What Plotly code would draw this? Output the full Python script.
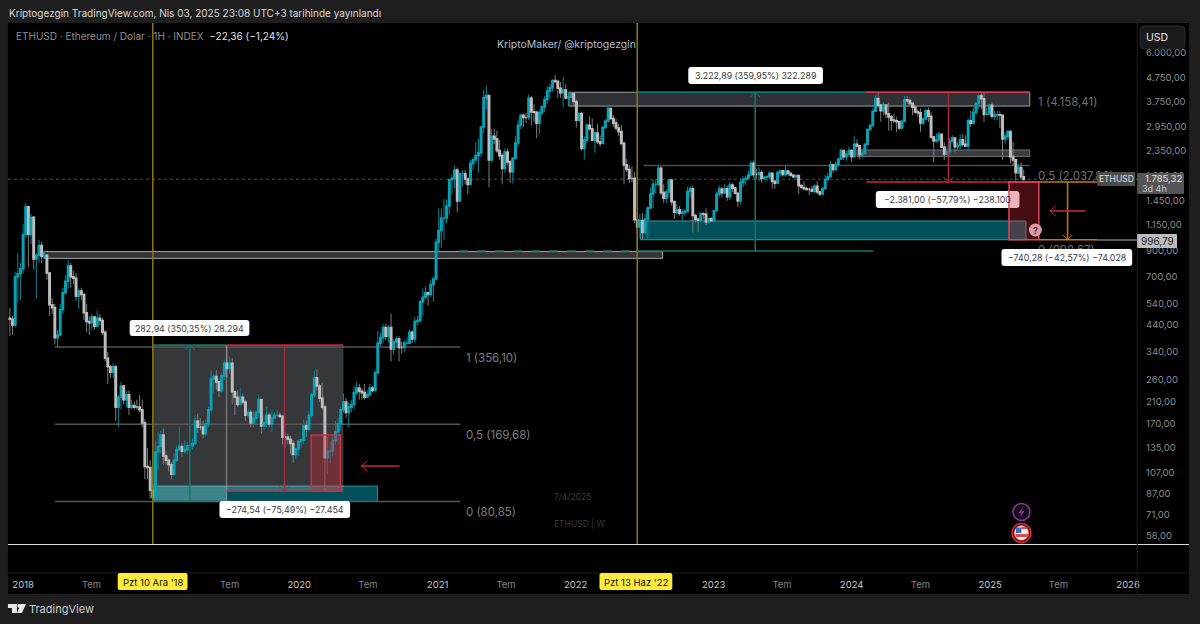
import numpy as np
import pandas as pd
import plotly.graph_objects as go

# Weekly ETHUSD bars as (close, high, low); each bar opens at the previous close.
first_open = 470
weeks_2017 = [(465,520,395),(440,480,400),(700,735,430),(720,880,545),(755,800,560)]
weeks_2018 = [(1050,1160,720),(1370,1420,1020),(1050,1370,770),(1240,1280,960),(830,1250,750),
    (860,880,570),(945,1000,800),(850,980,800),(860,900,830),(725,870,680),(535,730,480),(520,570,490),
    (390,540,365),(400,420,356),(510,540,395),(600,630,490),(670,710,590),(775,823,625),(700,800,630),
    (690,740,650),(580,725,555),(610,625,515),(590,630,560),(495,600,460),(455,540,410),(450,480,400),
    (475,490,420),(435,480,420),(470,505,430),(460,490,440),(410,470,400),(320,420,310),(295,340,250),
    (280,300,265),(295,305,265),(200,300,175),(220,225,165),(245,255,195),(215,245,205),(225,235,200),
    (200,235,185),(203,215,195),(200,210,195),(200,215,195),(195,225,190),(172,215,165),(113,178,100),
    (112,135,100),(90,120,83),(84,96,80.85),(130,145,83),(137,157,110),(153,160,128)]
weeks_2019 = [(125,163,115),(120,131,115),(115,122,108),(105,118,100),(120,128,103),(133,138,118),
    (137,165,132),(131,142,124),(133,145,128),(138,143,127),(138,145,130),(141,148,133),(175,185,139),
    (165,188,156),(165,180,160),(155,175,148),(170,178,152),(195,200,165),(262,285,190),(268,275,230),
    (255,285,235),(235,255,220),(270,278,230),(305,315,260),(290,356,265),(305,325,275),(232,320,205),
    (220,235,185),(205,235,200),(220,240,205),(210,228,205),(185,215,175),(190,197,180),(172,195,165),
    (180,192,165),(190,195,168),(215,225,180),(167,215,155),(172,185,160),(185,200,165),(170,190,165),
    (180,195,158),(185,190,178),(185,195,182),(183,190,180),(150,185,140),(150,158,135),(147,155,140),
    (141,152,127),(127,146,117),(134,135,122),(144,147,125)]
weeks_2020 = [(146,148,135),(167,178,140),(162,175,150),(185,192,158),(225,230,180),(265,285,220),
    (245,288,235),(218,250,210),(200,252,195),(123,205,89.13),(131,150,105),(131,143,117),(145,150,125),
    (158,175,140),(170,180,140),(195,200,160),(210,228,190),(190,218,180),(200,210,165),(205,215,190),
    (230,245,195),(240,255,225),(233,250,215),(230,240,215),(220,250,215),(225,235,220),(240,250,225),
    (235,245,230),(278,285,235),(370,415,275),(390,410,360),(430,445,370),(395,445,380),(430,440,370),
    (350,490,310),(375,385,330),(385,395,360),(355,395,310),(355,375,335),(370,380,340),(370,390,365),
    (410,420,365),(385,420,370),(455,475,370),(460,480,440),(550,560,450),(575,625,480),(600,635,560),
    (590,600,530),(650,680,575),(685,700,550),(975,1010,680)]
weeks_2021 = [(1090,1350,890),(1230,1350,925),(1230,1475,1000),(1380,1470,1170),(1780,1790,1270),
    (1800,1870,1560),(1950,2040,1640),(1450,2000,1300),(1880,1900,1460),(1880,1950,1670),(1790,1950,1700),
    (1700,1800,1550),(2080,2150,1700),(2150,2200,1950),(2240,2550,2100),(2300,2640,1900),(2950,2990,2200),
    (3900,4200,2780),(3990,4380,3500),(2150,4000,1650),(2700,2900,2100),(2630,2900,2500),(2350,2850,2300),
    (2240,2600,2150),(1980,2300,1700),(2320,2400,1900),(2110,2400,2050),(1920,2150,1720),(2190,2200,1710),
    (2530,2700,2150),(3000,3170,2450),(3300,3350,2900),(3230,3350,2950),(3230,3370,3070),(3890,4030,3150),
    (3410,3980,3000),(3400,3670,3100),(3060,3450,2650),(3380,3470,2750),(3580,3630,3300),(3840,3970,3400),
    (4170,4370,3680),(4300,4460,3900),(4610,4660,4150),(4570,4870,4500),(4280,4600,3900),(4100,4550,3900),
    (4210,4780,3570),(3900,4450,3850),(3930,4130,3630),(4060,4120,3900),(3770,4090,3600)]
weeks_2022 = [(3150,3850,2930),(3350,3400,3100),(2400,3420,2350),(2600,2700,2160),(3000,3050,2530),
    (2900,3280,2850),(2600,3200,2580),(2780,2830,2300),(2560,3040,2500),(2520,2720,2440),(2940,2970,2510),
    (3120,3180,2900),(3520,3580,3230),(3200,3550,3150),(3060,3300,2950),(2920,3190,2850),(2820,3030,2700),
    (2520,3000,2480),(2050,2560,1700),(1960,2170,1910),(1800,2050,1720),(1800,2020,1730),(1210,1920,1170),
    (1130,1300,895.37),(1200,1280,1010),(1070,1290,1000),(1215,1280,1060),(1355,1380,1010),(1550,1650,1340),
    (1700,1780,1350),(1700,1790,1560),(1985,2030,1680),(1570,2020,1530),(1490,1700,1420),(1580,1620,1420),
    (1770,1790,1500),(1440,1790,1390),(1300,1440,1220),(1330,1410,1270),(1290,1380,1260),(1300,1340,1190),
    (1310,1340,1250),(1590,1660,1340),(1630,1680,1500),(1260,1680,1070),(1215,1280,1180),(1205,1230,1075),
    (1280,1300,1190),(1275,1300,1215),(1185,1350,1150),(1220,1225,1160),(1200,1240,1190)]
weeks_2023 = [(1320,1330,1195),(1550,1590,1310),(1625,1680,1500),(1570,1660,1500),(1630,1700,1550),
    (1510,1680,1450),(1690,1740,1460),(1640,1720,1580),(1560,1660,1550),(1450,1570,1370),(1730,1800,1400),
    (1780,1840,1650),(1800,1850,1680),(1860,1940,1770),(2080,2130,1850),(1870,2140,1800),(1870,1970,1780),
    (1900,2000,1750),(1800,1950,1730),(1820,1850,1770),(1830,1860,1750),(1890,1930,1780),(1750,1900,1630),
    (1720,1780,1630),(1900,1930,1710),(1935,1950,1830),(1870,1950,1830),(1930,2030,1830),(1890,1950,1850),
    (1855,1890,1825),(1830,1870,1800),(1850,1870,1800),(1680,1850,1550),(1650,1700,1630),(1630,1750,1620),
    (1620,1660,1600),(1620,1650,1530),(1590,1680,1570),(1670,1700,1560),(1580,1750,1550),(1550,1600,1520),
    (1630,1650,1530),(1780,1860,1620),(1830,1900,1770),(2050,2130,1820),(1960,2060,1900),(2060,2130,1930),
    (2170,2190,2020),(2350,2400,2150),(2220,2340,2150),(2270,2340,2130),(2350,2450,2210)]
weeks_2024 = [(2220,2380,2110),(2500,2700,2220),(2460,2620,2390),(2260,2470,2170),(2290,2390,2200),
    (2500,2520,2270),(2880,2900,2470),(2990,3030,2850),(3430,3520,3030),(3880,4000,3420),(3640,4090,3550),
    (3450,3680,3100),(3640,3730,3300),(3350,3660,3210),(3250,3730,2850),(3150,3320,2850),(3130,3350,3070),
    (3100,3250,2800),(2920,3130,2860),(3120,3130,2860),(3830,3970,3090),(3800,3970,3700),(3700,3880,3650),
    (3570,3720,3300),(3410,3640,3350),(3380,3490,3240),(3070,3520,2810),(3190,3200,2990),(3450,3520,3160),
    (3270,3560,3090),(2680,3400,2630),(2580,2700,2100),(2610,2780,2530),(2750,2820,2550),(2430,2760,2420),
    (2270,2550,2150),(2320,2450,2280),(2580,2660,2260),(2650,2730,2540),(2440,2670,2310),(2470,2560,2350),
    (2610,2750,2380),(2500,2770,2440),(2460,2720,2450),(3130,3220,2350),(3060,3450,2950),(3400,3550,3020),
    (3700,3750,3310),(3980,4020,3500),(3870,4100,3500),(3330,4100,3100),(3340,3550,3300),(3630,3680,3310)]
weeks_2025 = [(3270,3740,3190),(3310,3450,3150),(3320,3450,3150),(3300,3430,2920),(2630,3260,2150),
    (2700,2790,2510),(2820,2860,2620),(2220,2860,2080),(2150,2550,2030),(1900,2150,1760),(2000,2070,1880),
    (1830,2100,1770),(1785.32,1960,1740)]

year_blocks = [("2017-11-27", weeks_2017), ("2018-01-01", weeks_2018), ("2019-01-07", weeks_2019),
               ("2020-01-06", weeks_2020), ("2021-01-04", weeks_2021), ("2022-01-03", weeks_2022),
               ("2023-01-02", weeks_2023), ("2024-01-01", weeks_2024), ("2025-01-06", weeks_2025)]

# Axis labels
price_ticks = [6000, 4750, 3750, 2950, 2350, 1850, 1450, 1150, 900, 700, 540, 440, 340, 260, 210, 170, 135, 107, 87, 71, 58]
price_tick_text = ["6.000,00", "4.750,00", "3.750,00", "2.950,00", "2.350,00", "1.850,00", "1.450,00", "1.150,00",
                   "900,00", "700,00", "540,00", "440,00", "340,00", "260,00", "210,00", "170,00", "135,00",
                   "107,00", "87,00", "71,00", "58,00"]
time_ticks = ["2018-01-01", "2018-07-01", "2019-07-01", "2020-01-01", "2020-07-01", "2021-01-01",
              "2021-07-01", "2022-01-01", "2023-01-01", "2023-07-01", "2024-01-01", "2024-07-01",
              "2025-01-01", "2025-07-01", "2026-01-01"]
time_tick_text = ["2018", "Tem", "Tem", "2020", "Tem", "2021", "Tem", "2022", "2023", "Tem", "2024",
                  "Tem", "2025", "Tem", "2026"]

# Measured moves and Fibonacci levels
low_2018, high_2019 = 80.76, 363.70
drop_top_2019, drop_low_2020 = 363.67, 89.13
low_2022, high_2024 = 895.37, 4118.26
drop_top_2024, drop_low_2025 = 4120.10, 1739.10
last_price, target_price = 1785.32, 996.79
target_top, target_low = 1738.97, 998.69
fib_left = [356.10, 169.68, 80.85]
fib_left_text = ["1 (356,10)", "0,5 (169,68)", "0 (80,85)"]
fib_right = [4158.41, 2037.80, 998.67]
fib_right_text = ["1 (4.158,41)", "0,5 (2.037,80)", "0 (998,67)"]

W, H = 1200, 624
FONT = "Inter"
TEAL = "#0a97a8"
RED = "#c8283c"
DARK_RED = "#a8283a"
GREEN = "#0f7a6c"
ORANGE = "#c07a10"
LABEL_DROP = 0.944  # level captions sit just under their line


def fx(px):
    return px / W


def fy(py):
    return 1 - py / H


dates, opens, highs, lows, closes = [], [], [], [], []
prev = first_open
for start, block in year_blocks:
    for when, (c, h, l) in zip(pd.date_range(start, periods=len(block), freq="7D"), block):
        dates.append(when)
        opens.append(prev)
        highs.append(max(h, prev, c))
        lows.append(min(l, prev, c))
        closes.append(c)
        prev = c

fig = go.Figure()
# Thin dim wicks first, then thicker bright bodies over them.
fig.add_trace(go.Candlestick(
    x=dates, open=opens, high=highs, low=lows, close=closes, hoverinfo="skip", showlegend=False,
    whiskerwidth=0,
    increasing=dict(line=dict(color="#0a8496", width=1), fillcolor="#0a8496"),
    decreasing=dict(line=dict(color="#7c7c7c", width=1), fillcolor="#7c7c7c"),
))
fig.add_trace(go.Candlestick(
    x=dates, open=opens, close=closes,
    high=[max(o, c) for o, c in zip(opens, closes)], low=[min(o, c) for o, c in zip(opens, closes)],
    hoverinfo="skip", showlegend=False, whiskerwidth=0,
    increasing=dict(line=dict(color="#0aa0b2", width=1.6), fillcolor="#0aa0b2"),
    decreasing=dict(line=dict(color="#bdbdbd", width=1.6), fillcolor="#d0d0d0"),
))
fig.add_trace(go.Scatter(
    x=["2021-03-17"] * 3, y=[v * LABEL_DROP for v in fib_left], text=fib_left_text, mode="text",
    textposition="bottom right", textfont=dict(family=FONT, size=11.5, color="#7d7d7d"),
    hoverinfo="skip", showlegend=False))
fig.add_trace(go.Scatter(
    x=["2025-05-08"] * 3, y=[v * LABEL_DROP for v in fib_right], text=fib_right_text, mode="text",
    textposition="bottom right", textfont=dict(family=FONT, size=11.5, color="#6e6e6e"),
    hoverinfo="skip", showlegend=False))

shapes = []


def rect(x0, x1, y0, y1, fill, line=None, width=1, layer="below"):
    shapes.append(dict(type="rect", xref="x", yref="y", x0=x0, x1=x1, y0=y0, y1=y1, fillcolor=fill,
                       line=dict(color=line or "rgba(0,0,0,0)", width=width if line else 0), layer=layer))


def hline(x0, x1, y, color, width=1, dash="solid", layer="below"):
    shapes.append(dict(type="line", xref="x", yref="y", x0=x0, x1=x1, y0=y, y1=y,
                       line=dict(color=color, width=width, dash=dash), layer=layer))


def vline(x, y0, y1, color, width=1, layer="above"):
    shapes.append(dict(type="line", xref="x", yref="y", x0=x, x1=x, y0=y0, y1=y1,
                       line=dict(color=color, width=width), layer=layer))


def chevron(x, y, path, color):
    # Open arrow head, sized in pixels around its data anchor.
    shapes.append(dict(type="path", xsizemode="pixel", ysizemode="pixel", xanchor=x, yanchor=y, xref="x", yref="y",
                       path=path, line=dict(color=color, width=1), layer="above"))


def rounded(x0, y0, x1, y1, r, fill, line=None, layer="above"):
    # Rounded panel placed in page pixels.
    a, b, c, d = fx(x0), fy(y0), fx(x1), fy(y1)
    rx, ry = r / W, r / H
    path = (f"M {a + rx} {b} L {c - rx} {b} Q {c} {b} {c} {b - ry} L {c} {d + ry} Q {c} {d} {c - rx} {d} "
            f"L {a + rx} {d} Q {a} {d} {a} {d + ry} L {a} {b - ry} Q {a} {b} {a + rx} {b} Z")
    shapes.append(dict(type="path", xref="paper", yref="paper", path=path, fillcolor=fill,
                       line=dict(color=line or "rgba(0,0,0,0)", width=1 if line else 0), layer=layer))


def circle(cx, cy, r, fill, line=None, width=1):
    shapes.append(dict(type="circle", xref="paper", yref="paper", x0=fx(cx - r), x1=fx(cx + r), y0=fy(cy + r),
                       y1=fy(cy - r), fillcolor=fill,
                       line=dict(color=line or "rgba(0,0,0,0)", width=width if line else 0), layer="above"))


def page_path(points, fill, line=None):
    path = "M " + " L ".join(f"{fx(x)} {fy(y)}" for x, y in points) + " Z"
    shapes.append(dict(type="path", xref="paper", yref="paper", path=path, fillcolor=fill,
                       line=dict(color=line or "rgba(0,0,0,0)", width=1 if line else 0), layer=layer_above))


layer_above = "above"

# Chart and axis panel
shapes.append(dict(type="rect", xref="paper", yref="paper", x0=fx(8), x1=fx(1192), y0=fy(594), y1=fy(23),
                   fillcolor="#000000", line=dict(width=0), layer="below"))

# Supply and demand zones
rect("2018-02-25", "2022-08-19", 835, 891, "#333338", "#a8a8a8")
rect("2021-12-14", "2025-04-16", 3607, 4118, "#303137", "#a0a0a0")
rect("2024-01-15", "2025-04-16", 2222, 2366, "#3b3b40", "#6e6e6e")
rect("2022-06-22", "2025-04-06", 998.69, 1196, "#01505a", "#3c989f")
rect("2018-12-10", "2020-07-26", 80.85, 93.7, "#01505a", "#2d8d95")

# Measured-move shading of the 2018-2020 range
rect("2018-12-10", "2020-04-27", drop_low_2020, high_2019, "rgba(200,205,215,0.27)")
rect("2018-12-10", "2019-06-23", low_2018, drop_low_2020, "rgba(200,205,215,0.27)")
rect("2018-12-10", "2019-06-23", 80.85, 93.7, "rgba(100,230,220,0.15)")

# Fibonacci lines
for level in fib_left:
    hline("2018-03-26", "2021-03-02", level, "#555555", 1.5)
hline("2022-06-30", "2025-04-16", fib_right[1], "#4c4c4c", 1.5)

# Last price line and upcoming target line
shapes.append(dict(type="line", xref="x domain", yref="y", x0=0, x1=1, y0=last_price, y1=last_price,
                   line=dict(color="#4d4d4d", width=1, dash="dot"), layer="below"))
hline("2025-10-12", "2026-01-25", target_price, "#777777", 1.5)
hline("2021-02-27", "2022-06-13", low_2022, GREEN, 1.5, "dash", "above")

# Session markers
for when in ["2018-12-10", "2022-06-13"]:
    shapes.append(dict(type="line", xref="x", yref="paper", x0=when, x1=when, y0=fy(544), y1=fy(23),
                       line=dict(color="#8a7a14", width=1.5), layer="above"))

# Separator lines of the panes
shapes.append(dict(type="line", xref="paper", yref="paper", x0=fx(8), x1=fx(1192), y0=fy(544.5), y1=fy(544.5),
                   line=dict(color="#dcdcdc", width=1), layer="above"))
shapes.append(dict(type="line", xref="paper", yref="paper", x0=fx(8), x1=fx(1192), y0=fy(573), y1=fy(573),
                   line=dict(color="#1e1e1e", width=1), layer="above"))
shapes.append(dict(type="line", xref="paper", yref="paper", x0=fx(1140), x1=fx(1140), y0=fy(594), y1=fy(23),
                   line=dict(color="#1e1e1e", width=1), layer="above"))

# 2018-2019 rise
hline("2018-12-10", "2019-06-23", high_2019, GREEN, 1.5, layer="above")
hline("2018-12-10", "2019-06-23", low_2018, GREEN, 1.5, layer="above")
vline("2019-03-18", low_2018, high_2019, GREEN, 1.5)
chevron("2019-03-18", high_2019, "M -5 -5 L 0 0 L 5 -5", GREEN)
vline("2019-06-23", low_2018, high_2019, "rgba(190,190,190,0.45)", 1.5)

# 2019-2020 fall
hline("2019-06-23", "2020-04-27", drop_top_2019, RED, 1.5, layer="above")
hline("2019-06-23", "2020-04-27", drop_low_2020, RED, 1.5, layer="above")
vline("2019-11-23", drop_low_2020, drop_top_2019, DARK_RED, 1.5)
chevron("2019-11-23", drop_low_2020, "M -5 5 L 0 0 L 5 5", DARK_RED)
rect("2020-02-02", "2020-04-19", drop_low_2020, 153, "rgba(200,40,50,0.38)", "#c83244", 1.5, "above")

# 2022-2024 rise
hline("2022-06-13", "2024-02-27", high_2024, GREEN, 1.5, layer="above")
hline("2022-06-13", "2024-02-27", low_2022, GREEN, 1.5, layer="above")
vline("2023-04-21", low_2022, high_2024, GREEN, 1.5)
chevron("2023-04-21", high_2024, "M -5 -5 L 0 0 L 5 -5", GREEN)

# 2024-2025 fall
hline("2024-02-09", "2025-04-16", drop_top_2024, "#d23c50", 1.5, layer="above")
hline("2024-02-09", "2025-05-10", drop_low_2025, RED, 1.5, layer="above")
vline("2024-09-13", drop_low_2025, drop_top_2024, DARK_RED, 1.5)
chevron("2024-09-13", drop_low_2025, "M -5 5 L 0 0 L 5 5", DARK_RED)

# White value callouts, the last ones tinted by the red zone above them
rounded(690, 67, 825, 84, 3, "#ffffff")
rounded(130, 320, 250, 336, 3, "#ffffff")
rounded(220, 501, 351, 518, 3, "#ffffff")
rounded(878, 191, 1022, 208, 3, "#ffffff")
rounded(1004, 249, 1135, 266, 3, "#ffffff")
rect("2025-02-20", "2025-05-10", target_low, target_top, "rgba(200,40,50,0.35)", "#e04458", 1.5, "above")
circle(1038, 230, 6.5, "#d89aa8")

# Projected target
hline("2025-05-10", "2025-10-12", target_top, ORANGE, 1.5, layer="above")
hline("2025-05-10", "2025-10-12", target_low, ORANGE, 1.5, layer="above")
vline("2025-07-25", target_low, target_top, ORANGE, 1.5)
chevron("2025-07-25", target_low, "M -5 5 L 0 0 L 5 5", ORANGE)

# Red pointers toward the price action
hline("2020-06-13", "2020-09-22", 113.6, RED, 1.5, layer="above")
chevron("2020-06-13", 113.6, "M 6 5 L 0 0 L 6 -5", RED)
hline("2025-06-08", "2025-09-11", 1316, RED, 1.5, layer="above")
chevron("2025-06-08", 1316, "M 6 5 L 0 0 L 6 -5", RED)

# Price axis badges and the currency button
rounded(1143, 26, 1188, 49, 4, "#1a1a1a", "#2a2a2a")
rounded(1100, 172, 1138, 186, 1, "#4d4d4d")
rounded(1140, 173, 1187, 194, 1, "#555555")
rounded(1140, 234, 1180, 248, 1, "#bdbdbd")

# Crosshair date badges
rounded(118, 573, 188, 590, 2, "#ffeb3b")
rounded(601, 573, 674, 590, 2, "#ffeb3b")

# Event icons
circle(1024, 512, 8.5, "#101010", "#9c27b0", 1.5)
page_path([(1026, 506), (1021, 513), (1024, 513), (1022, 518), (1027, 511), (1024, 511)], "#9c27b0")
circle(1024, 533, 9.5, "#000000", "#e0303c", 1.5)
circle(1024, 533, 7.5, "#f2f2f2", "#e0303c", 1)
page_path([(1018, 534), (1031, 534), (1031, 537), (1018, 537)], "#e04a4a")
page_path([(1024, 527), (1030, 527), (1030, 529), (1024, 529)], "#e04a4a")
page_path([(1018.5, 527.5), (1024, 527.5), (1024, 533), (1018.5, 533)], "#3a6fc4")

# TradingView mark in the footer
page_path([(8, 604), (17, 604), (17, 613), (12, 613), (12, 608), (8, 608)], "#e8e8e8")
circle(19.5, 606, 2, "#e8e8e8")
page_path([(21, 604), (26, 604), (22, 613), (17, 613)], "#e8e8e8")


def note(x, y, text, size=10.5, color="#333333", anchor="center"):
    return dict(xref="paper", yref="paper", x=fx(x), y=fy(y), text=text, showarrow=False, xanchor=anchor,
                yanchor="middle", font=dict(family=FONT, size=size, color=color))


annotations = [
    note(7, 13, "Kriptogezgin TradingView.com, Nis 03, 2025 23:08 UTC+3 tarihinde yayınlandı", 10, "#d9d9d9", "left"),
    note(14, 36, 'ETHUSD · Ethereum / Dolar · 1H · INDEX  <span style="color:#e0e0e0">−22,36 (−1,24%)</span>',
         10, "#8f8f8f", "left"),
    note(568, 45, "KriptoMaker/ @kriptogezgin", 10.5, "#b4bcc4"),
    note(757.5, 75.5, "3.222,89 (359,95%) 322.289", 8.8, "#3a3a3a"),
    note(190, 328, "282,94 (350,35%) 28.294", 8.8, "#3a3a3a"),
    note(285.5, 509.5, "−274,54 (−75,49%) −27.454", 8.8, "#3a3a3a"),
    note(950, 199.5, "−2.381,00 (−57,79%) −238.100", 8.8, "#3a3a3a"),
    note(1069.5, 257.5, "−740,28 (−42,57%) −74.028", 8.8, "#3a3a3a"),
    note(1038, 230, "<b>?</b>", 9, "#6e1e2c"),
    note(574, 497, "7/4/2025", 8.5, "#3d3d3d"),
    note(581, 523, "ETHUSD | W", 8.5, "#3a3a3a"),
    note(1160, 37, "USD", 10.5, "#e6e6e6"),
    note(1119, 179, "ETHUSD", 8.5, "#e0e0e0"),
    note(1166, 178, "1.785,32", 9.5, "#e6e6e6"),
    note(1157, 188, "3d 4h", 9, "#c8c8c8"),
    note(1160, 241, "996,79", 10, "#222222"),
    note(153, 582, "Pzt 10 Ara '18", 9.5, "#111111"),
    note(637.5, 582, "Pzt 13 Haz '22", 9.5, "#111111"),
    note(27, 609, "TradingView", 11, "#cfcfcf", "left"),
]

fig.update_layout(
    width=W, height=H, margin=dict(l=0, r=0, t=0, b=0), autosize=False,
    paper_bgcolor="#1e1e1e", plot_bgcolor="#000000", showlegend=False, hovermode=False,
    shapes=shapes, annotations=annotations, font=dict(family=FONT),
    xaxis=dict(type="date", domain=[fx(8), fx(1140)], range=["2017-11-22", "2026-01-25"], rangeslider=dict(visible=False),
               showgrid=False, zeroline=False, showline=False, tickmode="array", tickvals=time_ticks,
               ticktext=[f'<span style="color:#c9c9c9">{t}</span>' if t != "Tem" else t for t in time_tick_text],
               ticks="outside", ticklen=3, tickcolor="rgba(0,0,0,0)",
               tickfont=dict(family=FONT, size=9.5, color="#858585")),
    yaxis=dict(type="log", domain=[fy(573), fy(23)], range=[np.log10(40.65), np.log10(8010)], side="right",
               showgrid=False, zeroline=False, showline=False, tickmode="array", tickvals=price_ticks,
               ticktext=price_tick_text, ticks="outside", ticklen=6, tickcolor="rgba(0,0,0,0)",
               tickfont=dict(family=FONT, size=9.5, color="#8c8c8c")),
)

fig.write_html("out.html", config=dict(displayModeBar=False))
